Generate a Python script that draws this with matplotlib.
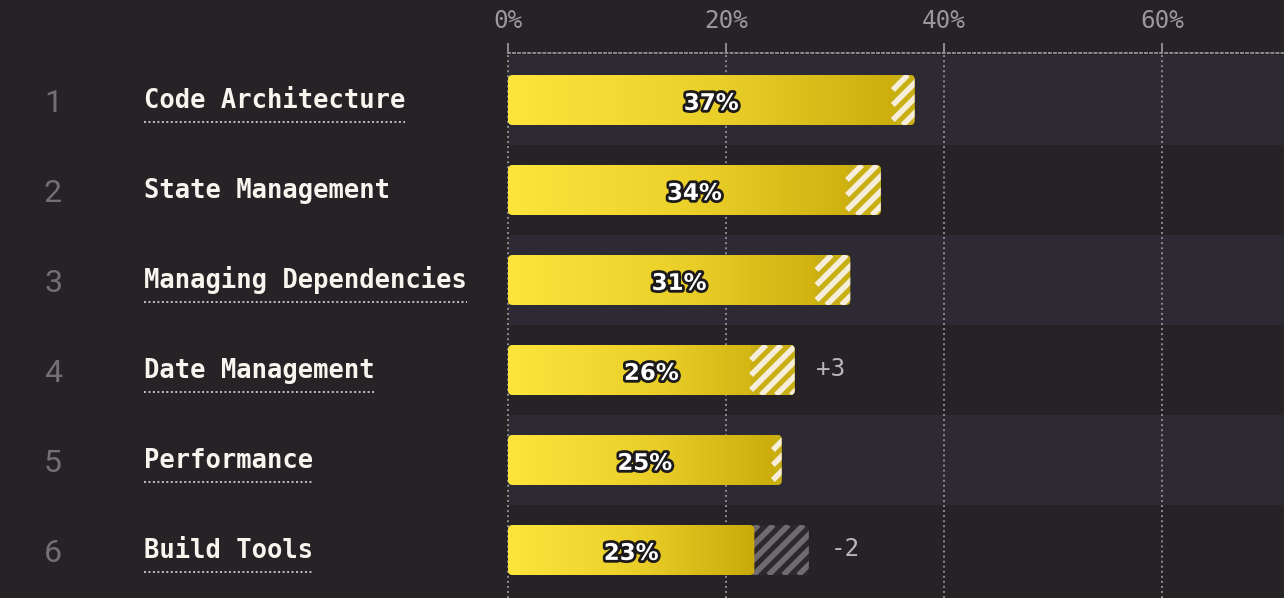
import matplotlib
matplotlib.use("Agg")
import matplotlib.pyplot as plt
import numpy as np
from matplotlib.patches import FancyBboxPatch, Rectangle
from matplotlib.lines import Line2D
from matplotlib.colors import LinearSegmentedColormap
import matplotlib.transforms as mtransforms
import matplotlib.patheffects as pe

# ---------------- data ----------------
ranks = [1, 2, 3, 4, 5, 6]
categories = ["Code Architecture", "State Management", "Managing Dependencies",
              "Date Management", "Performance", "Build Tools"]
values = [37.3, 34.2, 31.4, 26.3, 25.1, 22.6]
previous = [35.3, 31.1, 28.3, 22.3, 24.3, 27.6]
value_labels = ["37%", "34%", "31%", "26%", "25%", "23%"]
rank_changes = ["", "", "", "+3", "", "-2"]
underlined = [True, False, True, True, True, True]
x_ticks = [0, 20, 40, 60]
x_tick_labels = ["0%", "20%", "40%", "60%"]

# ---------------- style ----------------
BG = "#262226"
BAND = "#2e2a34"
GRID = "#8e8b8e"
YEL_L = "#fde53c"
YEL_R = "#c9aa0a"
STRIPE_BASE = "#c8b014"
CREAM = "#f6eedb"
GRAY_BASE = "#2c282c"
GRAY_STRIPE = "#6f6b6f"

W, H, DPI = 1284, 598, 100
fig = plt.figure(figsize=(W / DPI, H / DPI), dpi=DPI, facecolor=BG)
ax = fig.add_axes([508 / W, 0, 1 - 508 / W, 1 - 53 / H])
ax.set_facecolor(BG)

px_per_pct = 10.9
px_per_row = 90.0
xmax = (W - 508) / px_per_pct
ax.set_xlim(0, xmax)
ax.set_ylim(5.5 + 3 / 90, -0.5 - 2 / 90)

# alternating bands
for i in range(len(categories)):
    if i % 2 == 0:
        ax.axhspan(i - 0.5, i + 0.5, color=BAND, zorder=0, lw=0)

# grid & ticks
ax.xaxis.tick_top()
ax.set_xticks(x_ticks)
ax.set_xticklabels(x_tick_labels, family="DejaVu Sans Mono", fontsize=17.5, color="#9b989b")
ax.tick_params(axis="x", length=7.5, width=1.4, color=GRID, pad=7)
ax.set_yticks([])
ax.grid(axis="x", color=GRID, linestyle=(0, (1, 1.6)), linewidth=1.4, zorder=1)
for gl in ax.get_xgridlines():
    gl.set_clip_on(False)
ax.set_axisbelow(True)
for s in ["left", "right", "bottom"]:
    ax.spines[s].set_visible(False)
ax.spines["top"].set_linestyle((0, (1, 1.6)))
ax.spines["top"].set_color(GRID)
ax.spines["top"].set_linewidth(1.4)

bar_h = 50 / px_per_row
aspect = (1 / px_per_row) / (1 / px_per_pct)
rsize = 4.5 / px_per_pct
cmap = LinearSegmentedColormap.from_list("yel", [YEL_L, "#ecd02a", YEL_R])
grad = np.linspace(0, 1, 256).reshape(1, -1)


def rbox(x0, x1, y):
    p = FancyBboxPatch((x0, y - bar_h / 2), x1 - x0, bar_h,
                       boxstyle=f"round,pad=0,rounding_size={rsize}",
                       mutation_aspect=aspect, facecolor="none", edgecolor="none")
    p.set_transform(ax.transData)
    return p


def stripes(x0, x1, yc, color, clip, z):
    """45-degree (in pixels) stripes filling [x0, x1] of a bar, clipped to clip."""
    period = 15.0 / px_per_pct
    run = bar_h * px_per_row / px_per_pct  # x extent of one stripe across bar height
    y_bot, y_top = yc + bar_h / 2, yc - bar_h / 2
    s = x0 - run
    while s < x1:
        a, b = s, s + run
        ca, cb = max(a, x0), min(b, x1)
        if cb > ca:
            ya = y_bot + (y_top - y_bot) * (ca - a) / run
            yb = y_bot + (y_top - y_bot) * (cb - a) / run
            ln, = ax.plot([ca, cb], [ya, yb], color=color, lw=4.0,
                          solid_capstyle="butt", zorder=z)
            ln.set_clip_path(clip)
        s += period


for i, (v, pv) in enumerate(zip(values, previous)):
    end = max(v, pv)
    # gray (lost) part
    if pv > v:
        clip = rbox(0, pv, i)
        r = Rectangle((v - 1, i - bar_h / 2), pv - v + 1, bar_h, facecolor=GRAY_BASE,
                      lw=0, zorder=3)
        ax.add_patch(r)
        r.set_clip_path(clip)
        stripes(v - 1, pv + 1, i, GRAY_STRIPE, clip, 3.5)
    # yellow gradient
    clip = rbox(0, v, i)
    im = ax.imshow(grad, cmap=cmap, extent=[0, v, i + bar_h / 2, i - bar_h / 2],
                   aspect="auto", zorder=4, interpolation="bilinear")
    im.set_clip_path(clip)
    # gained striped part
    if pv < v:
        r = Rectangle((pv, i - bar_h / 2), v - pv, bar_h, facecolor=STRIPE_BASE,
                      lw=0, zorder=5)
        ax.add_patch(r)
        r.set_clip_path(clip)
        stripes(pv, v + 1, i, CREAM, clip, 5.5)
    # value label
    ax.text(v / 2, i + 0.11, value_labels[i], ha="center", va="baseline",
            family="DejaVu Sans", fontweight="bold", fontsize=16.5, color="white", zorder=6,
            path_effects=[pe.Stroke(linewidth=4, foreground="#1c1a1a"), pe.Normal()])
    # rank change label
    if rank_changes[i]:
        ax.text(end + 2.0, i + 0.07, rank_changes[i], ha="left", va="baseline",
                family="DejaVu Sans Mono", fontsize=17.5, color="#b9b6b9", zorder=6)

ax.set_xlim(0, xmax)
ax.set_ylim(5.5 + 3 / 90, -0.5 - 2 / 90)

# left labels
bt = mtransforms.blended_transform_factory(fig.transFigure, ax.transData)
renderer = fig.canvas.get_renderer()
for i, (rk, cat) in enumerate(zip(ranks, categories)):
    ax.text(53 / W, i + 0.135, str(rk), transform=bt, ha="center", va="baseline",
            family=["Roboto", "DejaVu Sans"], fontweight="normal", fontsize=23,
            color="#737073", clip_on=False)
    t = ax.text(144 / W, i + 0.09, cat, transform=bt, ha="left", va="baseline",
                family="DejaVu Sans Mono", fontweight="bold", fontsize=18.4,
                color="#f8f4ee", clip_on=False)
    if underlined[i]:
        bb = t.get_window_extent(renderer=renderer)
        ln = Line2D([bb.x0 / W, bb.x1 / W], [i + 0.245, i + 0.245], transform=bt,
                    color="#c4c1c4", linewidth=1.4, linestyle=(0, (1, 1.3)), clip_on=False)
        ax.add_artist(ln)

fig.savefig("out.png", dpi=DPI, facecolor=BG)
